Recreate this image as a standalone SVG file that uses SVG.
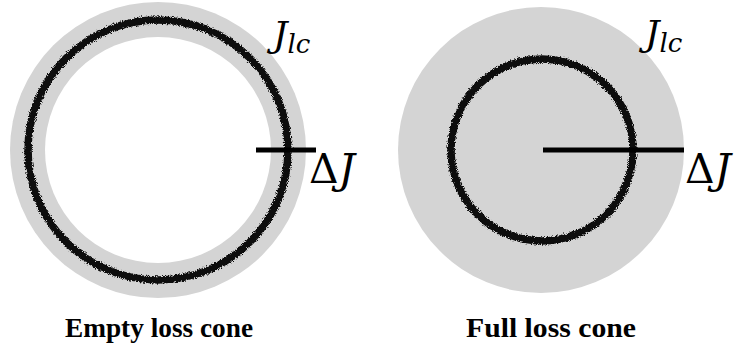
<svg xmlns="http://www.w3.org/2000/svg" width="742" height="352" viewBox="0 0 742 352">
  <style>
    .gray { fill: #d4d4d4; }
    .ring { fill: none; stroke: #111; stroke-width: 7.5; filter: url(#rough); }
    .bar { stroke: #000; stroke-width: 5; }
    .math { font-family: 'DejaVu Serif', 'Liberation Serif', serif; font-size: 36px; fill: #000; }
    .delta { font-size: 41px; }
    .it { font-style: italic; }
    .cap { font-family: 'Liberation Serif', serif; font-weight: bold; font-size: 28px; fill: #000; }
  </style>
  <defs>
    <filter id="rough" x="-10%" y="-10%" width="120%" height="120%">
      <feTurbulence type="fractalNoise" baseFrequency="1.2" numOctaves="2" seed="5" result="noise"/>
      <feDisplacementMap in="SourceGraphic" in2="noise" scale="5" xChannelSelector="R" yChannelSelector="G"/>
    </filter>
  </defs>
  <rect width="742" height="352" fill="#fff"/>

  <g id="empty-loss-cone">
    <circle class="gray" cx="158" cy="150" r="148"/>
    <circle cx="158" cy="150" r="113" fill="#fff"/>
    <circle class="ring" cx="158" cy="150" r="130"/>
    <line class="bar" x1="256" y1="150" x2="316" y2="150"/>
    <text class="math" x="273" y="47"><tspan class="it">J</tspan><tspan class="it" font-size="26" dy="6">lc</tspan></text>
    <text class="math delta" x="309" y="183">Δ<tspan class="it">J</tspan></text>
    <text class="cap" x="65" y="337" textLength="188" lengthAdjust="spacingAndGlyphs">Empty loss cone</text>
  </g>

  <g id="full-loss-cone">
    <circle class="gray" cx="541" cy="150" r="143"/>
    <circle class="ring" cx="542" cy="150" r="91"/>
    <line class="bar" x1="543" y1="150" x2="684" y2="150"/>
    <text class="math" x="645" y="46"><tspan class="it">J</tspan><tspan class="it" font-size="26" dy="6">lc</tspan></text>
    <text class="math delta" x="685" y="183">Δ<tspan class="it">J</tspan></text>
    <text class="cap" x="466" y="337" textLength="170" lengthAdjust="spacingAndGlyphs">Full loss cone</text>
  </g>

  <g id="connectors"></g>
</svg>
